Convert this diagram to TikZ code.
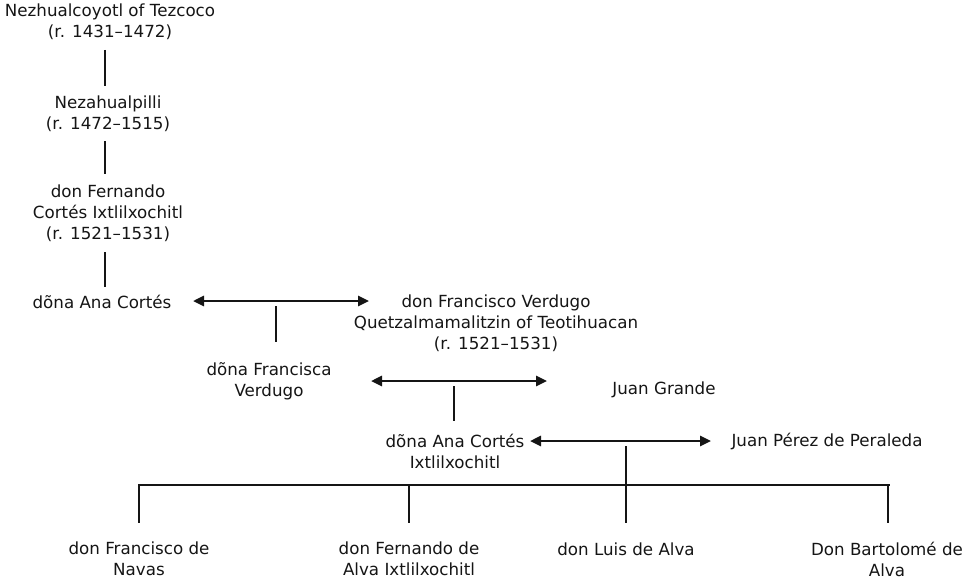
\documentclass[tikz,border=0pt]{standalone}
\usepackage{fontspec}
\setmainfont{DejaVu Sans}
\usetikzlibrary{arrows.meta}
\definecolor{ink}{HTML}{151515}
\begin{document}
\begin{tikzpicture}[x=1pt,y=-1pt,
  person/.style={inner sep=0pt,align=center,text=ink,font=\fontsize{16.7}{21}\selectfont},
  link/.style={draw=ink,line width=2.6pt},
  marriage/.style={draw=ink,line width=2.6pt,{Triangle[length=11pt,width=10pt]}-{Triangle[length=11pt,width=10pt]}}]
\useasboundingbox (0,0) rectangle (973,586);
\node[person] (nez) at (110,22) {Nezhualcoyotl of Tezcoco\\(r. 1431–1472)};
\node[person] (neza) at (108,114) {Nezahualpilli\\(r. 1472–1515)};
\node[person] (fer) at (108,213) {don Fernando\\Cortés Ixtlilxochitl\\(r. 1521–1531)};
\node[person] (ana) at (102,302) {dõna Ana Cortés};
\node[person] (fv) at (496,323) {don Francisco Verdugo\\Quetzalmamalitzin of Teotihuacan\\(r. 1521–1531)};
\node[person] (fra) at (269,381) {dõna Francisca\\Verdugo};
\node[person] (jg) at (664,390) {Juan Grande};
\node[person] (ana2) at (455,451) {dõna Ana Cortés\\Ixtlilxochitl};
\node[person] (jp) at (827,441) {Juan Pérez de Peraleda};
\node[person] (c1) at (139,559) {don Francisco de\\Navas};
\node[person] (c2) at (409,559) {don Fernando de\\Alva Ixtlilxochitl};
\node[person] (c3) at (626,549) {don Luis de Alva};
\node[person] (c4) at (887,559) {Don Bartolomé de\\Alva};
% descent lines
\coordinate (d1a) at (105,50);  \coordinate (d1b) at (105,86);
\coordinate (d2a) at (105,141); \coordinate (d2b) at (105,174);
\coordinate (d3a) at (105,252); \coordinate (d3b) at (105,287);
\draw[link] (d1a) -- (d1b);
\draw[link] (d2a) -- (d2b);
\draw[link] (d3a) -- (d3b);
% marriages
\coordinate (m1l) at (193,301); \coordinate (m1r) at (369,301);
\draw[marriage] (m1l) -- (m1r);
\coordinate (k1a) at (276,306); \coordinate (k1b) at (276,342);
\draw[link] (k1a) -- (k1b);
\coordinate (m2l) at (371,381); \coordinate (m2r) at (547,381);
\draw[marriage] (m2l) -- (m2r);
\coordinate (k2a) at (454,386); \coordinate (k2b) at (454,421);
\draw[link] (k2a) -- (k2b);
\coordinate (m3l) at (530,441); \coordinate (m3r) at (711,441);
\draw[marriage] (m3l) -- (m3r);
\coordinate (k3a) at (626,446); \coordinate (k3b) at (626,484);
\draw[link] (k3a) -- (k3b);
% children bar
\coordinate (bl) at (138,485); \coordinate (br) at (890,485);
\draw[link] (bl) -- (br);
\foreach \cx in {139,409,626,888}{
  \draw[link] (\cx,485) -- (\cx,523);
}
\end{tikzpicture}
\end{document}
